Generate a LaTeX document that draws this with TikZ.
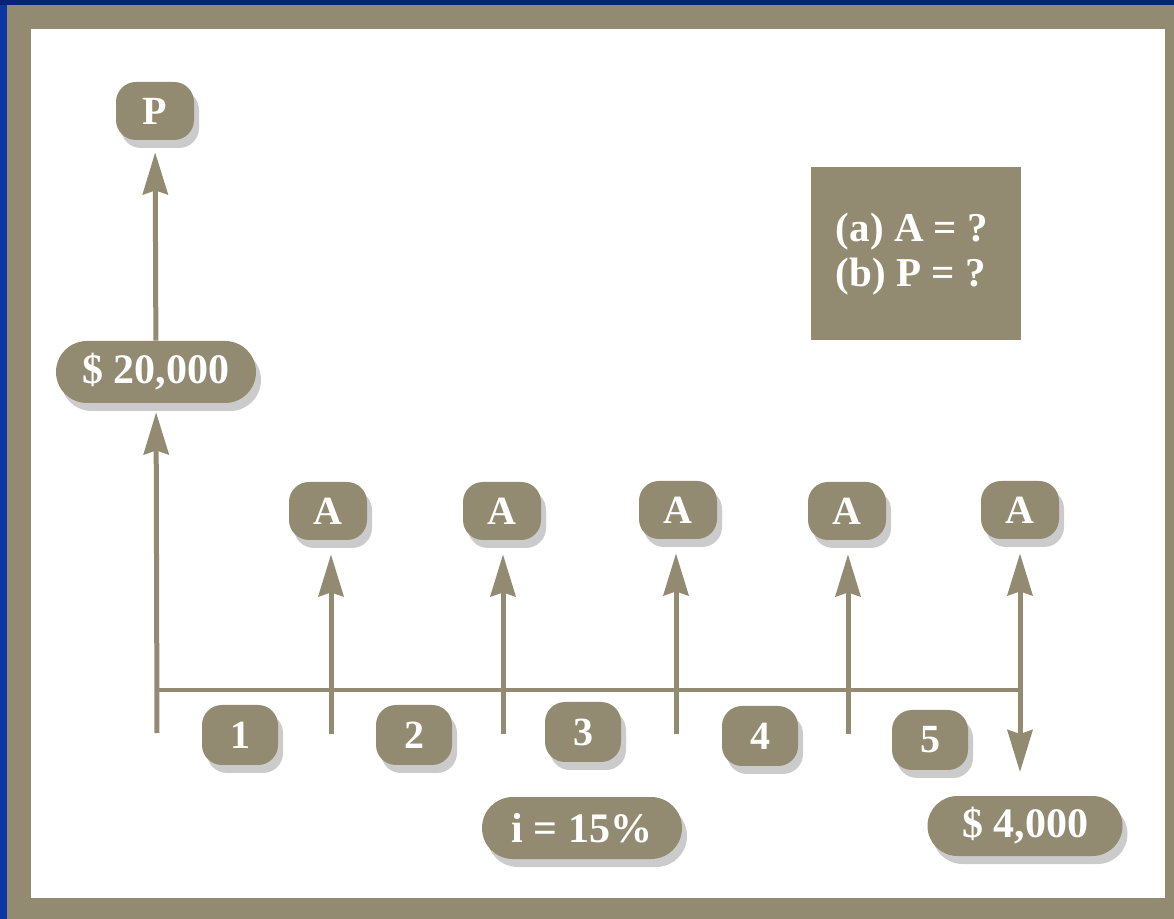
\documentclass[tikz,border=0pt]{standalone}
\usepackage{fontspec}
\setmainfont{Liberation Serif}
\usetikzlibrary{arrows.meta,shadows,shapes.misc}
\definecolor{khaki}{HTML}{928B71}
\definecolor{shadowc}{HTML}{CBCBCB}
\definecolor{bluetop}{HTML}{0A2272}
\definecolor{blueleft}{HTML}{0A36A6}
\tikzset{
  box/.style={fill=khaki, text=white, font=\fontsize{20}{24}\selectfont\bfseries,
    rounded corners=10pt, inner sep=0pt,
    drop shadow={shadow xshift=2.5pt, shadow yshift=-4pt, fill=shadowc, opacity=1}},
  letterbox/.style={box, minimum width=39pt, minimum height=29pt},
  numbox/.style={box, minimum width=38pt, minimum height=30pt},
  pill/.style={fill=khaki, text=white, font=\fontsize{21}{24}\selectfont\bfseries,
    rounded rectangle, inner sep=0pt, minimum width=100pt, minimum height=31pt,
    drop shadow={shadow xshift=2.5pt, shadow yshift=-4pt, fill=shadowc, opacity=1}},
  flow/.style={draw=khaki, line width=2.5pt},
  arr/.style={flow, -{Stealth[length=21pt, width=12.5pt, inset=2pt]}},
}
\begin{document}
\begin{tikzpicture}[x=0.5pt,y=-0.5pt]
% background and frame
\fill[bluetop] (0,0) rectangle (1174,919);
\fill[blueleft] (0,5) rectangle (7,919);
\fill[khaki] (7,5) rectangle (1174,919);
\fill[white] (31,29) rectangle (1165,898);
\useasboundingbox (0,0) rectangle (1174,919);

% axis coordinates
\coordinate (t0) at (157,690);
\coordinate (t1) at (331,690);
\coordinate (t2) at (503,690);
\coordinate (t3) at (676,690);
\coordinate (t4) at (848,690);
\coordinate (t5) at (1020,690);
\coordinate (b0) at (157,733);
\coordinate (b1) at (331,734);
\coordinate (b2) at (503,734);
\coordinate (b3) at (676,734);
\coordinate (b4) at (848,734);
\coordinate (d5) at (1020,772);

% nodes
\node[letterbox] (P) at (155,111) {P};
\node[pill, minimum width=100pt] (s20) at (156,372) {\$ 20,000};
\node[letterbox] (A1) at (328,511) {A};
\node[letterbox] (A2) at (502,511) {A};
\node[letterbox] (A3) at (678,510) {A};
\node[letterbox] (A4) at (847,511) {A};
\node[letterbox] (A5) at (1020,510) {A};
\node[numbox] (n1) at (240,735) {1};
\node[numbox] (n2) at (414,735) {2};
\node[numbox] (n3) at (583,732) {3};
\node[numbox] (n4) at (760,736) {4};
\node[numbox] (n5) at (930,740) {5};
\node[pill] (rate) at (582,828) {i = 15\%};
\node[pill, minimum width=97.5pt, minimum height=30pt] (s4) at (1025,826) {\$ 4,000};
\node[fill=khaki, minimum width=105pt, minimum height=86.5pt, inner sep=0pt] (q) at (916,253.5) {};
\node[text=white, font=\fontsize{20.5}{22.5}\selectfont\bfseries, align=left, inner sep=0pt] (qt) at (912,254) {(a) A = ?\\(b) P = ?};

% connectors
\draw[flow, line width=2pt] (t0) -- (t5);
\draw[arr, shorten >=4.5pt] (b0) -- (s20);
\draw[arr, shorten >=6pt] (s20) -- (P);
\draw[arr, shorten >=7pt] (b1) -- (b1 |- A1.south);
\draw[arr, shorten >=7pt] (b2) -- (b2 |- A2.south);
\draw[arr, shorten >=7pt] (b3) -- (b3 |- A3.south);
\draw[arr, shorten >=7pt] (b4) -- (b4 |- A4.south);
\draw[arr, shorten >=7pt] (t5) -- (A5);
\draw[arr] (t5) -- (d5);
\end{tikzpicture}
\end{document}
